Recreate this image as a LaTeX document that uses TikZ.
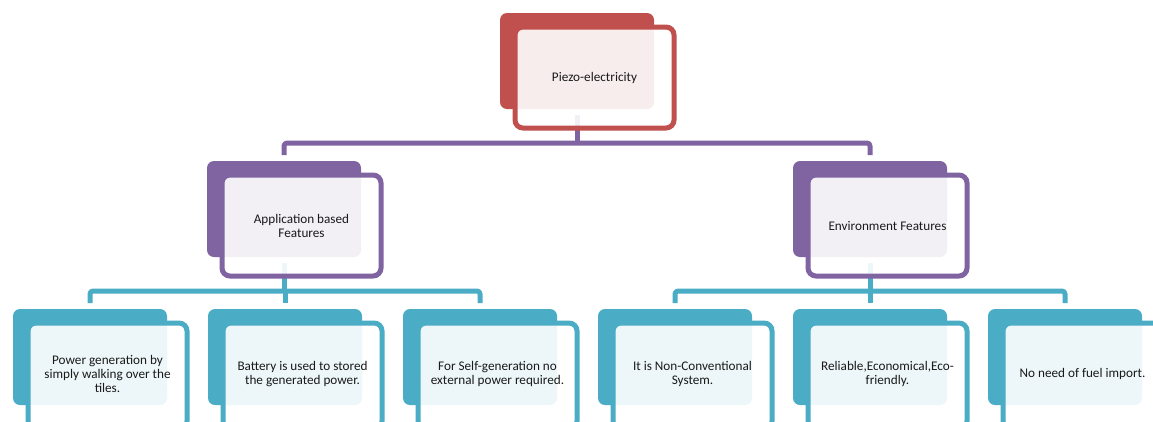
\documentclass[tikz,border=0pt]{standalone}
\usepackage{fontspec}
\setmainfont{Carlito}
\definecolor{cred}{HTML}{C0504D}
\definecolor{cpurple}{HTML}{8064A2}
\definecolor{cteal}{HTML}{4BACC6}
\definecolor{ctext}{HTML}{1A1A1A}
\tikzset{
  backbox/.style={rectangle, rounded corners=7pt, inner sep=0pt, outer sep=0pt,
    minimum width=154pt, minimum height=96pt, anchor=north west, draw=none},
  framebox/.style={rectangle, rounded corners=8pt, inner sep=0pt, outer sep=0pt,
    minimum width=159pt, minimum height=101pt, anchor=north west,
    line width=5pt, fill=white, fill opacity=0.9, draw opacity=1},
  txt/.style={align=center, text=ctext, font=\fontsize{13.2}{14}\selectfont, inner sep=0pt},
  conn/.style={line width=5pt, rounded corners=3pt, line join=round},
}
\newcommand{\backunit}[4]{\node[backbox, fill=#4] (#1) at (#2,#3) {};}
\newcommand{\frontunit}[4]{%
  \node[framebox, draw=#2, minimum height=#3pt] (#1f) at ([shift={(15,14)}]#1.north west) {};
  \node[txt, yshift=-0.5pt] (#1t) at ([yshift={(#3pt-101pt)/2}]#1f.center) {#4};}
\begin{document}
\begin{tikzpicture}[x=1pt,y=-1pt]
\clip (0,0) rectangle (1153,421);
\fill[white] (0,0) rectangle (1153,421);
% back boxes
\backunit{top}{500}{13}{cred}
\backunit{L}{207}{161}{cpurple}
\backunit{R}{793}{161}{cpurple}
\backunit{a}{13}{309}{cteal}
\backunit{b}{208}{309}{cteal}
\backunit{c}{403}{309}{cteal}
\backunit{d}{598}{309}{cteal}
\backunit{e}{793}{309}{cteal}
\backunit{f}{988}{309}{cteal}
% bus coordinates
\coordinate (bus1) at (0,143);
\coordinate (bus2) at (0,291);
% connectors
\draw[conn, cpurple] ([yshift=-6pt]top.south) -- (top.south |- bus1);
\draw[conn, cpurple] ([yshift=6pt]L.north) |- (top.south |- bus1) -| ([yshift=6pt]R.north);
\draw[conn, cteal] ([yshift=-6pt]L.south) -- (L.south |- bus2);
\draw[conn, cteal] ([yshift=6pt]a.north) |- (c.north |- bus2) -- ([yshift=6pt]c.north);
\draw[conn, cteal] (b.north |- bus2) -- ([yshift=6pt]b.north);
\draw[conn, cteal] ([yshift=-6pt]R.south) -- (R.south |- bus2);
\draw[conn, cteal] ([yshift=6pt]d.north) |- (f.north |- bus2) -- ([yshift=6pt]f.north);
\draw[conn, cteal] (e.north |- bus2) -- ([yshift=6pt]e.north);
% front frames and texts
\frontunit{top}{cred}{101}{Piezo-electricity}
\frontunit{L}{cpurple}{101}{Application based\\Features}
\frontunit{R}{cpurple}{101}{Environment Features}
\frontunit{a}{cteal}{106}{Power generation by\\simply walking over the\\tiles.}
\frontunit{b}{cteal}{106}{Battery is used to stored\\the generated power.}
\frontunit{c}{cteal}{106}{For Self-generation no\\external power required.}
\frontunit{d}{cteal}{106}{It is Non-Conventional\\System.}
\frontunit{e}{cteal}{106}{Reliable,Economical,Eco-\\friendly.}
\frontunit{f}{cteal}{106}{No need of fuel import.}
\end{tikzpicture}
\end{document}
